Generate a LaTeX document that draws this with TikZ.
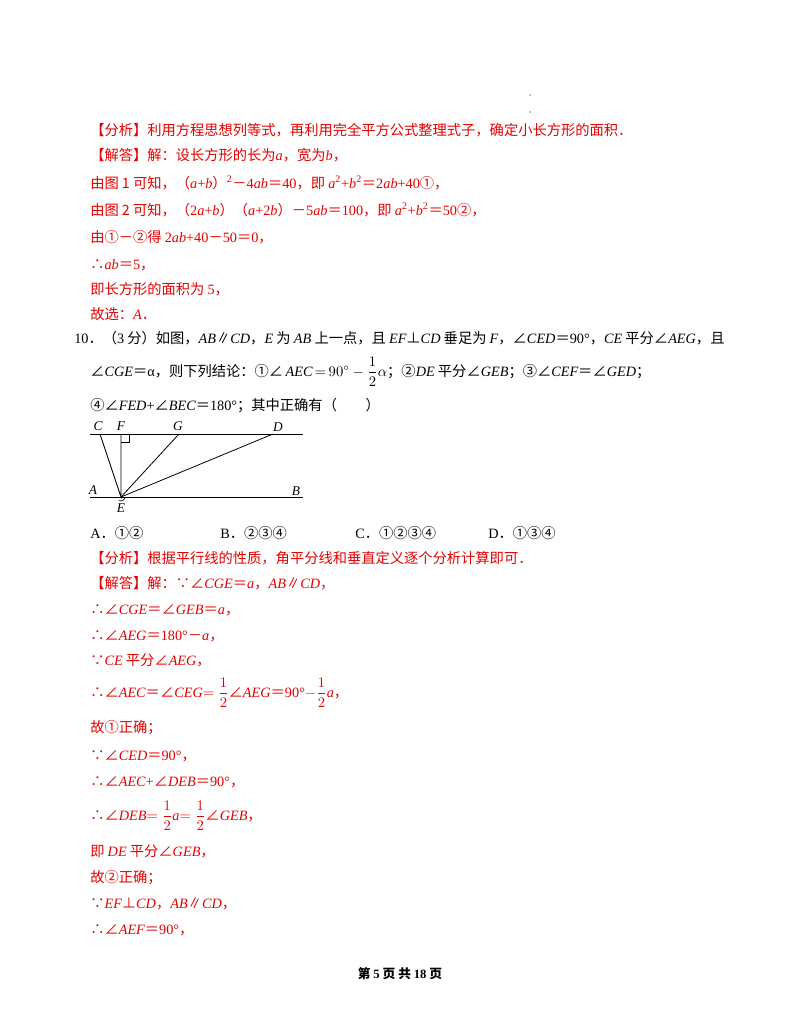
\documentclass[tikz,border=0pt]{standalone}
\usepackage{amsmath}
\usepackage{fontspec}
\setmainfont{Noto Sans CJK SC}
\newfontfamily\lser{Liberation Serif}
\newcommand\mv[1]{{\lser\itshape #1}}
\newcommand\mr[1]{{\lser #1}}
\definecolor{ans}{RGB}{230,0,0}
\begin{document}
\begin{tikzpicture}[x=0.75pt,y=-0.75pt,
  tl/.style={anchor=base west,inner sep=0pt,font=\fontsize{10.7}{12}\selectfont},
  rl/.style={tl,text=ans},
  lab/.style={inner sep=0pt,font=\lser\itshape\fontsize{10}{12}\selectfont},
  geo/.style={line width=0.6pt}]
\useasboundingbox (0,0) rectangle (800,1035);
\fill[black] (530,95) circle (0.6) (530,112) circle (0.6);
\node[rl] (l1) at (90,135) {【分析】利用方程思想列等式，再利用完全平方公式整理式子，确定小长方形的面积．};
\node[rl] (l2) at (90,160) {【解答】解：设长方形的长为\mv{a}，宽为\mv{b}，};
\node[rl] (l3) at (90,188) {由图 1 可知，（\mv{a}\mr{+}\mv{b}）\textsuperscript{\mr{2}}－\mr{4}\mv{ab}＝\mr{40}，即 \mv{a}\textsuperscript{\mr{2}}\mr{+}\mv{b}\textsuperscript{\mr{2}}＝\mr{2}\mv{ab}\mr{+40}①，};
\node[rl] (l4) at (90,215) {由图 2 可知，（\mr{2}\mv{a}\mr{+}\mv{b}）（\mv{a}\mr{+2}\mv{b}）－\mr{5}\mv{ab}＝\mr{100}，即 \mv{a}\textsuperscript{\mr{2}}\mr{+}\mv{b}\textsuperscript{\mr{2}}＝\mr{50}②，};
\node[rl] (l5) at (90,242) {由①－②得 \mr{2}\mv{ab}\mr{+40}－\mr{50}＝\mr{0}，};
\node[rl] (l6) at (90,269) {∴\mv{ab}＝\mr{5}，};
\node[rl] (l7) at (90,294) {即长方形的面积为 \mr{5}，};
\node[rl] (l8) at (90,319) {故选：\mv{A}．};
\node[tl] (q1) at (74,343) {\mr{10}．（\mr{3} 分）如图，\mv{AB}∥\mv{CD}，\mv{E} 为 \mv{AB} 上一点，且 \mv{EF}⊥\mv{CD} 垂足为 \mv{F}，∠\mv{CED}＝\mr{90°}，\mv{CE} 平分∠\mv{AEG}，且};
\node[tl] (q2) at (90,376) {∠\mv{CGE}＝\mr{α}，则下列结论：①∠\,\mv{AEC}$\,{=}\,90^\circ-\dfrac12\alpha$；②\mv{DE} 平分∠\mv{GEB}；③∠\mv{CEF}＝∠\mv{GED}；};
\node[tl] (q3) at (90,410) {④∠\mv{FED}\mr{+}∠\mv{BEC}＝\mr{180°}；其中正确有（　　）};
% figure
\coordinate (C) at (100,434); \coordinate (F) at (121,434); \coordinate (G) at (179,434);
\coordinate (D) at (273,434); \coordinate (E) at (121,497);
\draw[geo] (90,434) -- (303,434);
\draw[geo] (90,497) -- (303,497);
\draw[geo] (C) -- (E) -- (F); \draw[geo] (E) -- (G); \draw[geo] (E) -- (D);
\draw[line width=0.5pt] (121,442) -- (129,442) -- (129,434);
\draw[line width=0.5pt] (125,497) arc (0:-120:4 and -4);
\node[lab] (lC) at (98,426) {C}; \node[lab] (lF) at (121,426) {F};
\node[lab] (lG) at (178,426) {G}; \node[lab] (lD) at (278,427) {D};
\node[lab] (lA) at (93,490) {A}; \node[lab] (lB) at (296,491) {B};
\node[lab] (lE) at (121,508) {E};
\node[tl] (op) at (90,538) {\mr{A}．①②};
\node[tl] (opb) at (220,538) {\mr{B}．②③④};
\node[tl] (opc) at (355,538) {\mr{C}．①②③④};
\node[tl] (opd) at (488,538) {\mr{D}．①③④};
\node[rl] (s1) at (90,563) {【分析】根据平行线的性质，角平分线和垂直定义逐个分析计算即可．};
\node[rl] (s2) at (90,588) {【解答】解：∵∠\mv{CGE}＝\mv{a}，\mv{AB}∥\mv{CD}，};
\node[rl] (s3) at (90,614) {∴∠\mv{CGE}＝∠\mv{GEB}＝\mv{a}，};
\node[rl] (s4) at (90,640) {∴∠\mv{AEG}＝\mr{180°}－\mv{a}，};
\node[rl] (s5) at (90,665) {∵\mv{CE} 平分∠\mv{AEG}，};
\node[rl] (s6) at (90,697) {∴∠\mv{AEC}＝∠\mv{CEG}$=\dfrac12$∠\mv{AEG}＝\mr{90°}$-\dfrac12$\mv{a}，};
\node[rl] (s7) at (90,732) {故①正确；};
\node[rl] (s8) at (90,760) {∵∠\mv{CED}＝\mr{90°}，};
\node[rl] (s9) at (90,786) {∴∠\mv{AEC}\mr{+}∠\mv{DEB}＝\mr{90°}，};
\node[rl] (s10) at (90,820) {∴∠\mv{DEB}$=\dfrac12$\mv{a}$=\dfrac12$∠\mv{GEB}，};
\node[rl] (s11) at (90,856) {即 \mv{DE} 平分∠\mv{GEB}，};
\node[rl] (s12) at (90,882) {故②正确；};
\node[rl] (s13) at (90,908) {∵\mv{EF}⊥\mv{CD}，\mv{AB}∥\mv{CD}，};
\node[rl] (s14) at (90,934) {∴∠\mv{AEF}＝\mr{90°}，};
\node[tl,anchor=base,font=\bfseries\fontsize{9.5}{11}\selectfont] (ft) at (400,978) {第 \mr{5} 页 共 \mr{18} 页};
\end{tikzpicture}
\end{document}
